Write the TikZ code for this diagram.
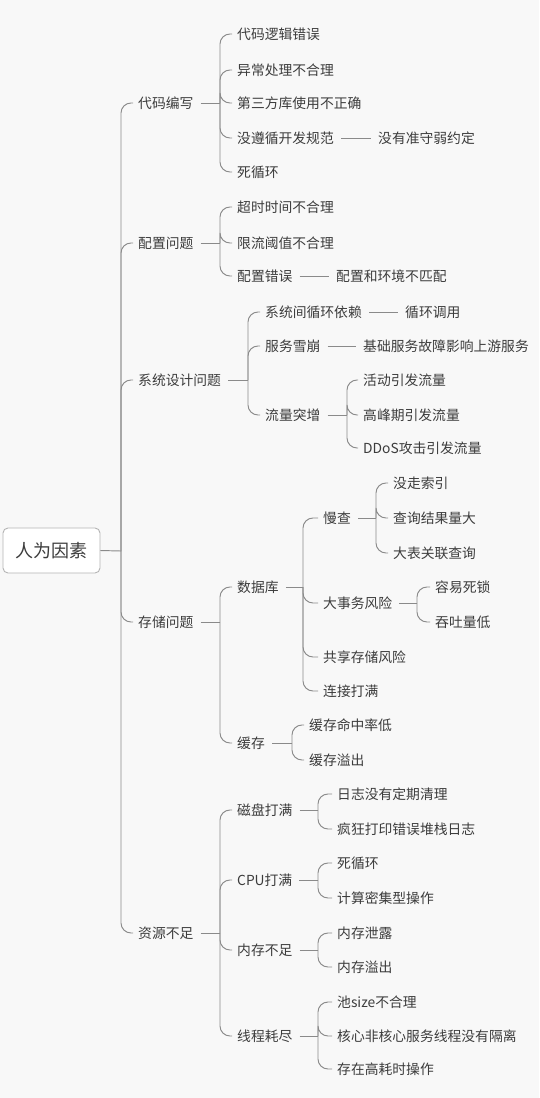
\documentclass[tikz,border=0pt]{standalone}
\usepackage{fontspec}
\newfontfamily\cjk{Noto Sans CJK SC}
\definecolor{bgc}{RGB}{248,248,248}
\definecolor{txtc}{RGB}{60,60,60}
\definecolor{linec}{RGB}{138,138,138}
\definecolor{boxc}{RGB}{180,180,180}
\tikzset{
  lbl/.style={anchor=west, inner sep=3pt, font=\cjk\fontsize{13.8}{16}\selectfont, text=txtc},
  link/.style={draw=linec, line width=0.95pt},
  brace/.style={link, rounded corners=10pt, shorten >=2pt},
  joinline/.style={link, shorten <=4pt, shorten >=4pt},
  rootbox/.style={draw=boxc, line width=0.9pt, fill=white, rounded corners=5pt, minimum width=97pt, minimum height=45pt, inner sep=0pt, font=\cjk\fontsize{18}{20}\selectfont, text=txtc}
}
\begin{document}
\begin{tikzpicture}[x=1pt,y=-1pt]
\useasboundingbox (0,0) rectangle (539,1098);
\fill[bgc] (0,0) rectangle (539,1098);

% root
\node[rootbox] (root) at (51.5,550.5) {人为因素};
\coordinate (J0) at (121,551);

% level 1
\node[lbl] (a) at (135,103) {代码编写};
\node[lbl] (b) at (135,243) {配置问题};
\node[lbl] (c) at (135,380) {系统设计问题};
\node[lbl] (d) at (135,622) {存储问题};
\node[lbl] (e) at (135,933) {资源不足};

% a
\coordinate (ja) at (220,103);
\node[lbl] (a1) at (234,34) {代码逻辑错误};
\node[lbl] (a2) at (234,70) {异常处理不合理};
\node[lbl] (a3) at (234,103) {第三方库使用不正确};
\node[lbl] (a4) at (234,138) {没遵循开发规范};
\node[lbl] (a4x) at (375,138) {没有准守弱约定};
\node[lbl] (a5) at (234,172) {死循环};

% b
\coordinate (jb) at (220,243);
\node[lbl] (b1) at (234,207) {超时时间不合理};
\node[lbl] (b2) at (234,243) {限流阈值不合理};
\node[lbl] (b3) at (234,276) {配置错误};
\node[lbl] (b3x) at (333,276) {配置和环境不匹配};

% c
\coordinate (jc) at (248,380);
\node[lbl] (c1) at (262,312) {系统间循环依赖};
\node[lbl] (c1x) at (402,312) {循环调用};
\node[lbl] (c2) at (262,346) {服务雪崩};
\node[lbl] (c2x) at (360,346) {基础服务故障影响上游服务};
\node[lbl] (c3) at (262,415) {流量突增};
\coordinate (jc3) at (347,415);
\node[lbl] (c31) at (360,380) {活动引发流量};
\node[lbl] (c32) at (360,415) {高峰期引发流量};
\node[lbl] (c33) at (360,448) {DDoS攻击引发流量};

% d
\coordinate (jd) at (220,622);
\node[lbl] (d1) at (234,587) {数据库};
\coordinate (jd1) at (303,587);
\node[lbl] (d11) at (320,518) {慢查};
\coordinate (jd11) at (376,518);
\node[lbl] (d111) at (390,483) {没走索引};
\node[lbl] (d112) at (390,518) {查询结果量大};
\node[lbl] (d113) at (390,553) {大表关联查询};
\node[lbl] (d12) at (320,603) {大事务风险};
\coordinate (jd12) at (417,603);
\node[lbl] (d121) at (432,587) {容易死锁};
\node[lbl] (d122) at (432,622) {吞吐量低};
\node[lbl] (d13) at (320,657) {共享存储风险};
\node[lbl] (d14) at (320,691) {连接打满};
\node[lbl] (d2) at (234,743) {缓存};
\coordinate (jd2) at (292,743);
\node[lbl] (d21) at (306,725) {缓存命中率低};
\node[lbl] (d22) at (306,760) {缓存溢出};

% e
\coordinate (je) at (220,933);
\node[lbl] (e1) at (234,810) {磁盘打满};
\coordinate (je1) at (318,810);
\node[lbl] (e11) at (334,794) {日志没有定期清理};
\node[lbl] (e12) at (334,829) {疯狂打印错误堆栈日志};
\node[lbl] (e2) at (234,880) {CPU打满};
\coordinate (je2) at (318,880);
\node[lbl] (e21) at (334,863) {死循环};
\node[lbl] (e22) at (334,898) {计算密集型操作};
\node[lbl] (e3) at (234,950) {内存不足};
\coordinate (je3) at (318,950);
\node[lbl] (e31) at (334,933) {内存泄露};
\node[lbl] (e32) at (334,967) {内存溢出};
\node[lbl] (e4) at (234,1036) {线程耗尽};
\coordinate (je4) at (318,1036);
\node[lbl] (e41) at (334,1002) {池size不合理};
\node[lbl] (e42) at (334,1036) {核心非核心服务线程没有隔离};
\node[lbl] (e43) at (334,1069) {存在高耗时操作};

% connectors
\draw[link] (root.east) -- (J0);
\foreach \n in {a,b,c,d,e} \draw[brace] (J0) |- (\n.west);

\draw[link,shorten <=4pt] (a.east) -- (ja);
\foreach \n in {a1,a2,a3,a4,a5} \draw[brace] (ja) |- (\n.west);
\draw[joinline] (a4.east) -- (a4x.west);

\draw[link,shorten <=4pt] (b.east) -- (jb);
\foreach \n in {b1,b2,b3} \draw[brace] (jb) |- (\n.west);
\draw[joinline] (b3.east) -- (b3x.west);

\draw[link,shorten <=4pt] (c.east) -- (jc);
\foreach \n in {c1,c2,c3} \draw[brace] (jc) |- (\n.west);
\draw[joinline] (c1.east) -- (c1x.west);
\draw[joinline] (c2.east) -- (c2x.west);
\draw[link,shorten <=4pt] (c3.east) -- (jc3);
\foreach \n in {c31,c32,c33} \draw[brace] (jc3) |- (\n.west);

\draw[link,shorten <=4pt] (d.east) -- (jd);
\foreach \n in {d1,d2} \draw[brace] (jd) |- (\n.west);
\draw[link,shorten <=4pt] (d1.east) -- (jd1);
\foreach \n in {d11,d12,d13,d14} \draw[brace] (jd1) |- (\n.west);
\draw[link,shorten <=4pt] (d11.east) -- (jd11);
\foreach \n in {d111,d112,d113} \draw[brace] (jd11) |- (\n.west);
\draw[link,shorten <=4pt] (d12.east) -- (jd12);
\foreach \n in {d121,d122} \draw[brace] (jd12) |- (\n.west);
\draw[link,shorten <=4pt] (d2.east) -- (jd2);
\foreach \n in {d21,d22} \draw[brace] (jd2) |- (\n.west);

\draw[link,shorten <=4pt] (e.east) -- (je);
\foreach \n in {e1,e2,e3,e4} \draw[brace] (je) |- (\n.west);
\draw[link,shorten <=4pt] (e1.east) -- (je1);
\foreach \n in {e11,e12} \draw[brace] (je1) |- (\n.west);
\draw[link,shorten <=4pt] (e2.east) -- (je2);
\foreach \n in {e21,e22} \draw[brace] (je2) |- (\n.west);
\draw[link,shorten <=4pt] (e3.east) -- (je3);
\foreach \n in {e31,e32} \draw[brace] (je3) |- (\n.west);
\draw[link,shorten <=4pt] (e4.east) -- (je4);
\foreach \n in {e41,e42,e43} \draw[brace] (je4) |- (\n.west);
\end{tikzpicture}
\end{document}
